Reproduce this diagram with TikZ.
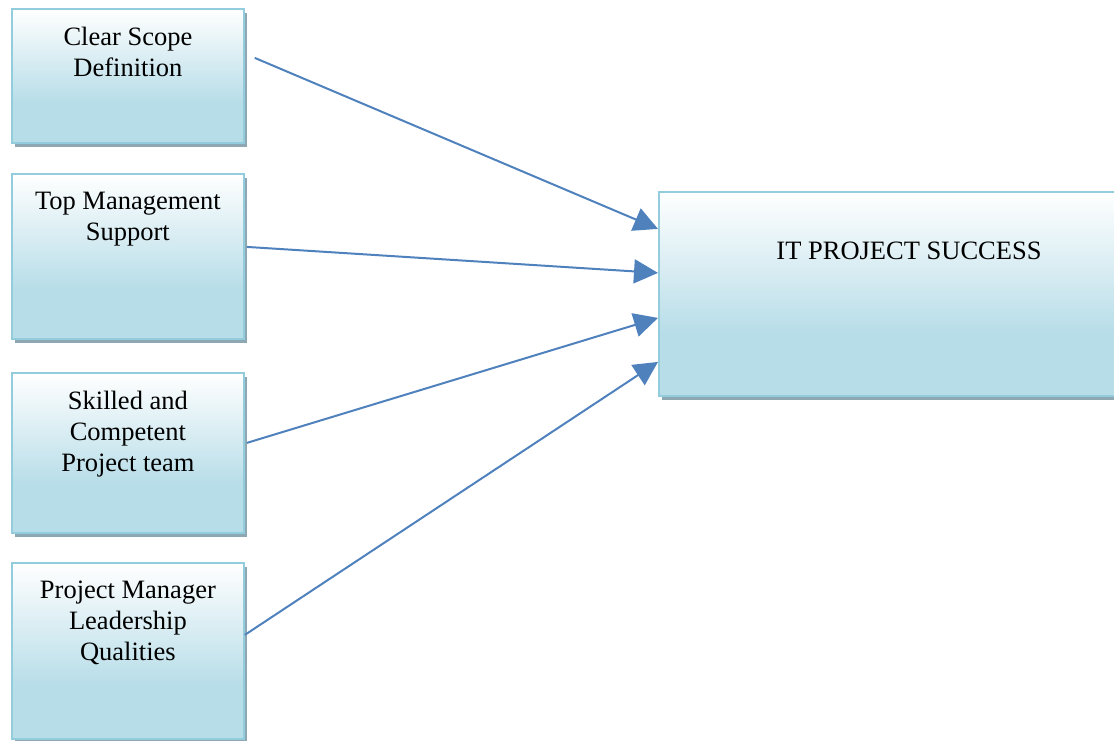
\documentclass[tikz,border=0pt]{standalone}
\usepackage{fontspec}
\setmainfont{Liberation Serif}
\usetikzlibrary{arrows.meta,shadows,calc}

\definecolor{boxedge}{HTML}{93CDDD}
\definecolor{boxfill}{HTML}{B7DDE8}
\definecolor{boxshadow}{HTML}{8DA8B2}
\definecolor{arrowblue}{HTML}{4F81BD}

% white at the top, fading into light blue over the lower part of the box
\pgfdeclareverticalshading{boxshade}{100bp}{color(0bp)=(boxfill); color(40bp)=(boxfill); color(75bp)=(white); color(100bp)=(white)}

\tikzset{
  factor/.style={draw=boxedge, line width=1.8pt, shading=boxshade, inner sep=0pt,
    anchor=north west,
    drop shadow={shadow xshift=3pt, shadow yshift=-4pt, fill=boxshadow, opacity=1}},
  boxtext/.style={inner sep=0pt, align=center, font=\fontsize{26.5}{31}\selectfont},
  flow/.style={draw=arrowblue, line width=2pt,
    -{Triangle[length=24pt,width=24pt]}},
}

\begin{document}
\begin{tikzpicture}[x=1pt, y=-1pt]
  \path[use as bounding box, clip] (0,0) rectangle (1114,740);

  % influencing factors
  \node[factor, minimum width=232pt, minimum height=134pt] (b1) at (11,8) {};
  \node[factor, minimum width=232pt, minimum height=165pt] (b2) at (11,173) {};
  \node[factor, minimum width=232pt, minimum height=160pt] (b3) at (11,372) {};
  \node[factor, minimum width=232pt, minimum height=176pt] (b4) at (11,562) {};

  % outcome
  \node[factor, minimum width=502pt, minimum height=204pt] (goal) at (658,191) {};

  \node[boxtext, anchor=north] (t1) at ([yshift=-19pt]b1.north) {Clear Scope\\Definition};
  \node[boxtext, anchor=north] (t2) at ([yshift=-19pt]b2.north) {Top Management\\Support};
  \node[boxtext, anchor=north] (t3) at ([yshift=-19pt]b3.north) {Skilled and\\Competent\\Project team};
  \node[boxtext, anchor=north] (t4) at ([yshift=-19pt]b4.north) {Project Manager\\Leadership\\Qualities};
  \node[boxtext, anchor=base] (tg) at (909,259) {IT PROJECT SUCCESS};

  % connectors
  \draw[flow] ([xshift=10pt,yshift=18pt]b1.east) -- ([yshift=65pt]goal.west);
  \draw[flow] ([xshift=2pt,yshift=9.5pt]b2.east) -- ([yshift=21pt]goal.west);
  \draw[flow] ([xshift=2pt,yshift=10pt]b3.east) -- ([yshift=-24pt]goal.west);
  \draw[flow] ([yshift=16pt]b4.east) -- ([yshift=-68pt]goal.west);
\end{tikzpicture}
\end{document}
